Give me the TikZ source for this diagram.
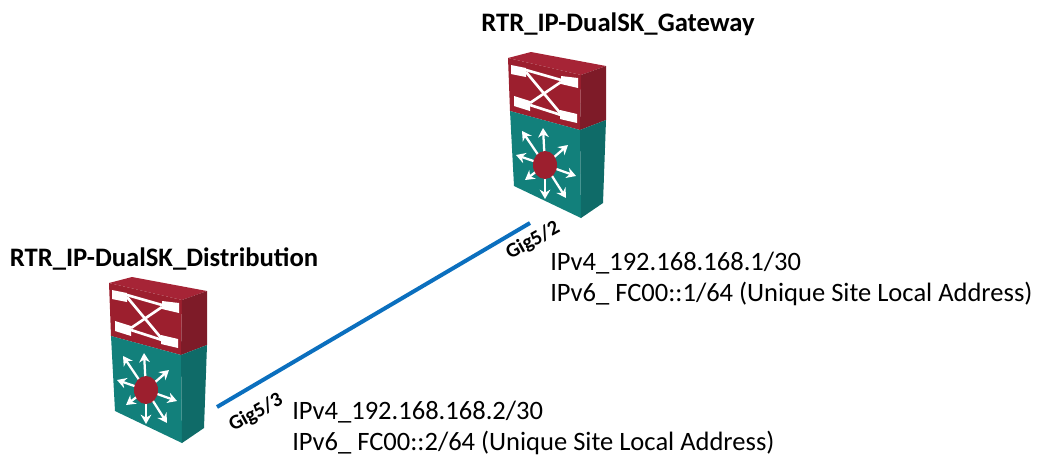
\documentclass[tikz,border=0pt]{standalone}
\usepackage{fontspec}
\setmainfont{Carlito}
\usetikzlibrary{arrows.meta}
\definecolor{redfront}{HTML}{9C1F2E}
\definecolor{redside}{HTML}{7E1B28}
\definecolor{redtop}{HTML}{A62436}
\definecolor{tealfront}{HTML}{12807B}
\definecolor{tealside}{HTML}{0F6B68}
\definecolor{linkblue}{HTML}{0B6FBE}
\tikzset{ title/.style = { rectangle % device name
, inner sep = 0pt
, font = \bfseries\fontsize{20}{24}\selectfont
}
, addr/.style = { rectangle % address lines
, inner sep = 0pt
, align = left
, font = \fontsize{19.9}{23.2}\selectfont
}
, port/.style = { rectangle % interface name
, inner sep = 0pt
, rotate = 29
, font = \bfseries\fontsize{15.5}{18}\selectfont
}
, link/.style = { draw = linkblue
, line width = 3pt
}
, cross/.style = { draw = white
, line width = 2pt
}
, spoke/.style = { draw = white
, line width = 1.7pt
, -{Stealth[length=7pt,width=8pt]}
}
, switch/.pic = {
    \fill [redtop] (0,0) -- (23,-6) -- (98,8) -- (73,17) -- cycle;
    \fill [redfront] (0,0) -- (73,17) -- (72,72) -- (2,53) -- cycle;
    \fill [redside] (73,17) -- (98,8) -- (98,62) -- (72,72) -- cycle;
    \fill [tealfront] (2,53) -- (72,72) -- (73,160) -- (6,128) -- cycle;
    \fill [tealside] (72,72) -- (98,62) -- (95,145) -- (73,160) -- cycle;
    % crossing bars
    \draw [cross] (18,12) -- (53,22);
    \draw [cross] (18,14) -- (53,56);
    \draw [cross] (22,45) -- (53,24);
    \draw [cross] (22,47) -- (53,57);
    \fill [white] (3,7) -- (18,10) -- (18,19) -- (3,16) -- cycle;
    \fill [white] (53,18) -- (70,20) -- (70,30) -- (53,26) -- cycle;
    \fill [white] (6,38) -- (22,43) -- (22,53) -- (6,48) -- cycle;
    \fill [white] (52,52) -- (69,56) -- (69,65) -- (52,61) -- cycle;
    % spokes
    \foreach \tipx/\tipy in {35/70, 14/73, 8/97, 17/122, 37/141, 58/140, 68/118, 60/87}
      \draw [spoke] (37,107) -- (\tipx,\tipy);
    \fill [redfront] (37,107) ellipse [x radius=12, y radius=14];
  }
}
\begin{document}
\begin{tikzpicture}[x=0.75pt,y=-0.75pt]
    \useasboundingbox (0,0) rectangle (1037,457);

    \pic at (508,58) {switch};
    \pic at (109,283) {switch};

    \node [title] (gateway) at (618,24) {RTR\_IP-DualSK\_Gateway};
    \node [title] (distribution) at (164,259) {RTR\_IP-DualSK\_Distribution};

    \coordinate (gw_port) at (530,223);
    \coordinate (dist_port) at (217,407);
    \draw [link] (dist_port) -- (gw_port);

    \node [port] (gig52) at (533,241) {Gig5/2};
    \node [port] (gig53) at (256,413) {Gig5/3};

    \node [addr,anchor=north west] (gw_addr) at (550,252) {IPv4\_192.168.168.1/30\\IPv6\_ FC00::1/64 (Unique Site Local Address)};
    \node [addr,anchor=north west] (dist_addr) at (292,401) {IPv4\_192.168.168.2/30\\IPv6\_ FC00::2/64 (Unique Site Local Address)};
\end{tikzpicture}
\end{document}
